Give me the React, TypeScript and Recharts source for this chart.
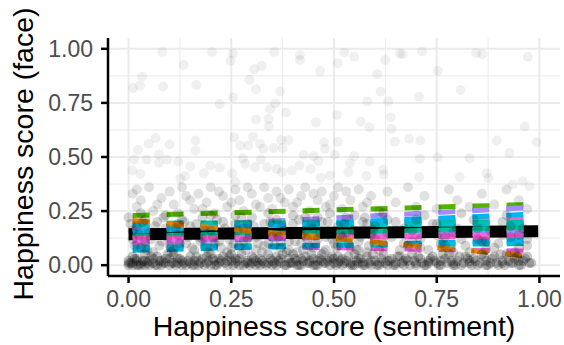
import { ComposedChart, Scatter, Line, XAxis, YAxis, ReferenceLine } from 'recharts';

// sparse upper points
const upperPoints: [number, number][] = [
  [0.082, 0.986], [0.203, 0.986], [0.254, 0.98], [0.248, 0.945], [0.355, 0.986], [0.417, 0.971],
  [0.417, 0.948], [0.525, 0.983], [0.509, 0.934], [0.549, 0.963], [0.625, 0.949], [0.66, 0.978],
  [0.667, 0.975], [0.714, 0.988], [0.846, 0.98], [0.861, 0.975], [0.972, 0.963], [0.134, 0.925],
  [0.306, 0.905], [0.324, 0.922], [0.466, 0.897], [0.753, 0.897], [0.605, 0.883], [0.033, 0.871],
  [0.011, 0.819], [0.028, 0.829], [0.084, 0.826], [0.165, 0.833], [0.294, 0.857], [0.31, 0.813],
  [0.369, 0.803], [0.613, 0.802], [0.707, 0.779], [0.808, 0.81], [0.254, 0.776], [0.222, 0.745],
  [0.357, 0.748], [0.345, 0.722], [0.383, 0.706], [0.581, 0.757], [0.632, 0.757], [0.507, 0.694],
  [0.31, 0.673], [0.341, 0.676], [0.341, 0.642], [0.456, 0.66], [0.565, 0.664], [0.586, 0.637],
  [0.638, 0.683], [0.64, 0.63], [0.964, 0.641], [0.066, 0.588], [0.049, 0.561], [0.1, 0.558],
  [0.023, 0.533], [0.163, 0.576], [0.163, 0.53], [0.257, 0.591], [0.303, 0.594], [0.272, 0.553],
  [0.292, 0.553], [0.32, 0.561], [0.328, 0.538], [0.353, 0.542], [0.375, 0.542], [0.371, 0.579],
  [0.389, 0.579], [0.476, 0.568], [0.509, 0.571], [0.478, 0.538], [0.648, 0.571], [0.683, 0.584],
  [0.71, 0.576], [0.896, 0.576], [0.993, 0.568], [0.927, 0.518], [0.013, 0.488], [0.044, 0.487],
  [0.074, 0.512], [0.074, 0.473], [0.094, 0.488], [0.121, 0.479], [0.15, 0.456], [0.199, 0.461],
  [0.222, 0.45], [0.278, 0.494], [0.284, 0.469], [0.322, 0.488], [0.426, 0.51], [0.45, 0.504],
  [0.462, 0.481], [0.502, 0.51], [0.549, 0.504], [0.539, 0.471], [0.587, 0.479], [0.709, 0.492],
  [0.752, 0.499], [0.83, 0.494], [0.009, 0.438], [0.029, 0.422], [0.126, 0.4], [0.138, 0.412],
  [0.183, 0.425], [0.252, 0.425], [0.26, 0.384], [0.308, 0.453], [0.337, 0.453], [0.361, 0.445],
  [0.373, 0.43], [0.397, 0.438], [0.416, 0.461], [0.443, 0.445], [0.468, 0.404], [0.49, 0.415],
  [0.535, 0.43], [0.579, 0.412], [0.62, 0.441], [0.621, 0.419], [0.707, 0.407], [0.806, 0.407],
  [0.871, 0.425], [0.876, 0.402], [0.959, 0.388], [0.935, 0.373], [0.976, 0.365],
];

// upper part of the middle band (y 0.24 - 0.37)
const midHighPoints: [number, number][] = [
  [0.01, 0.33], [0.03, 0.3], [0.05, 0.36], [0.02, 0.27], [0.06, 0.25], [0.08, 0.31], [0.1, 0.34],
  [0.11, 0.28], [0.13, 0.36], [0.12, 0.24], [0.15, 0.3], [0.17, 0.33], [0.16, 0.26], [0.19, 0.29],
  [0.2, 0.36], [0.21, 0.24], [0.23, 0.32], [0.24, 0.27], [0.26, 0.35], [0.27, 0.3], [0.28, 0.25],
  [0.3, 0.33], [0.31, 0.28], [0.33, 0.36], [0.34, 0.31], [0.35, 0.26], [0.36, 0.34], [0.38, 0.29],
  [0.39, 0.35], [0.4, 0.27], [0.42, 0.32], [0.43, 0.36], [0.44, 0.25], [0.46, 0.3], [0.47, 0.34],
  [0.48, 0.27], [0.5, 0.32], [0.51, 0.36], [0.52, 0.26], [0.54, 0.3], [0.56, 0.35], [0.57, 0.27],
  [0.59, 0.32], [0.61, 0.25], [0.63, 0.34], [0.65, 0.29], [0.68, 0.36], [0.7, 0.27], [0.72, 0.32],
  [0.75, 0.26], [0.78, 0.35], [0.8, 0.3], [0.83, 0.27], [0.86, 0.33], [0.89, 0.28], [0.92, 0.35],
  [0.95, 0.3], [0.97, 0.26],
  [0.02, 0.35], [0.07, 0.28], [0.14, 0.32], [0.18, 0.26], [0.22, 0.34], [0.25, 0.29], [0.29, 0.36],
  [0.32, 0.27], [0.37, 0.31], [0.41, 0.29], [0.45, 0.33], [0.49, 0.28], [0.53, 0.34], [0.58, 0.29],
];

// lower part of the middle band (y 0.05 - 0.24)
const midLowPoints: [number, number][] = [
  [0.0, 0.22], [0.02, 0.18], [0.04, 0.21], [0.01, 0.12], [0.03, 0.08], [0.05, 0.15], [0.07, 0.2],
  [0.08, 0.11], [0.09, 0.17], [0.11, 0.07], [0.12, 0.14], [0.13, 0.21], [0.14, 0.1], [0.15, 0.18],
  [0.17, 0.13], [0.18, 0.22], [0.19, 0.08], [0.2, 0.16], [0.22, 0.11], [0.23, 0.2], [0.24, 0.06],
  [0.25, 0.14], [0.26, 0.19], [0.27, 0.09], [0.28, 0.17], [0.29, 0.12], [0.3, 0.22], [0.31, 0.07],
  [0.32, 0.15], [0.33, 0.19], [0.34, 0.1], [0.35, 0.13], [0.36, 0.21], [0.37, 0.08], [0.38, 0.16],
  [0.39, 0.11], [0.4, 0.19], [0.41, 0.06], [0.42, 0.14], [0.43, 0.22], [0.44, 0.09], [0.45, 0.17],
  [0.46, 0.12], [0.47, 0.2], [0.48, 0.07], [0.49, 0.15], [0.5, 0.1], [0.51, 0.18], [0.52, 0.13],
  [0.53, 0.22], [0.54, 0.08], [0.55, 0.16], [0.56, 0.11], [0.57, 0.2], [0.58, 0.06], [0.59, 0.14],
  [0.6, 0.18], [0.62, 0.1], [0.63, 0.21], [0.64, 0.13], [0.66, 0.07], [0.67, 0.17], [0.69, 0.11],
  [0.7, 0.21], [0.71, 0.08], [0.73, 0.15], [0.74, 0.19], [0.76, 0.1], [0.77, 0.13], [0.79, 0.06],
  [0.8, 0.17], [0.82, 0.09], [0.84, 0.21], [0.85, 0.12], [0.87, 0.07], [0.88, 0.16], [0.9, 0.1],
  [0.91, 0.2], [0.93, 0.13], [0.94, 0.06], [0.96, 0.17], [0.97, 0.09],
  [0.01, 0.16], [0.03, 0.24], [0.04, 0.11], [0.06, 0.06], [0.07, 0.14], [0.09, 0.23], [0.1, 0.09],
  [0.12, 0.19], [0.14, 0.15], [0.16, 0.07], [0.18, 0.12], [0.2, 0.23], [0.21, 0.1], [0.23, 0.14],
  [0.25, 0.08], [0.26, 0.23], [0.28, 0.11], [0.29, 0.19], [0.31, 0.13], [0.33, 0.09], [0.34, 0.24],
  [0.36, 0.15], [0.37, 0.11], [0.39, 0.07], [0.4, 0.23], [0.42, 0.1], [0.43, 0.16], [0.45, 0.08],
  [0.46, 0.22], [0.48, 0.13], [0.49, 0.24], [0.51, 0.09], [0.53, 0.15], [0.55, 0.23], [0.56, 0.07],
  [0.58, 0.19], [0.6, 0.12], [0.62, 0.24], [0.65, 0.15], [0.68, 0.09], [0.72, 0.23], [0.75, 0.14],
  [0.81, 0.24], [0.86, 0.11], [0.92, 0.23], [0.95, 0.14],
  [0.005, 0.19], [0.015, 0.09], [0.025, 0.14], [0.035, 0.2], [0.045, 0.07], [0.055, 0.12], [0.065, 0.18],
  [0.075, 0.09], [0.085, 0.22], [0.095, 0.13], [0.105, 0.06], [0.115, 0.17], [0.125, 0.1], [0.135, 0.2],
  [0.145, 0.13], [0.155, 0.08], [0.165, 0.19], [0.175, 0.11], [0.185, 0.16], [0.195, 0.06], [0.205, 0.13],
  [0.215, 0.21], [0.225, 0.08], [0.235, 0.17], [0.245, 0.12], [0.255, 0.1], [0.265, 0.16], [0.275, 0.22],
  [0.285, 0.07], [0.295, 0.14], [0.305, 0.18], [0.315, 0.1], [0.325, 0.06], [0.335, 0.15], [0.345, 0.2],
  [0.355, 0.09], [0.365, 0.13], [0.375, 0.18], [0.385, 0.06], [0.395, 0.14], [0.405, 0.11], [0.415, 0.21],
  [0.425, 0.07], [0.435, 0.12], [0.445, 0.19], [0.455, 0.1], [0.465, 0.15], [0.475, 0.06], [0.485, 0.2],
  [0.495, 0.12], [0.505, 0.08], [0.515, 0.14], [0.525, 0.19], [0.535, 0.1], [0.545, 0.16], [0.555, 0.07],
  [0.565, 0.13], [0.575, 0.22], [0.585, 0.09], [0.595, 0.16], [0.61, 0.07], [0.63, 0.15], [0.65, 0.2],
  [0.67, 0.1], [0.69, 0.16], [0.71, 0.12], [0.73, 0.07], [0.75, 0.19], [0.77, 0.09], [0.79, 0.15],
  [0.81, 0.12], [0.83, 0.06], [0.85, 0.17], [0.87, 0.11], [0.89, 0.08], [0.91, 0.14], [0.93, 0.18],
  [0.95, 0.08], [0.97, 0.12],
];

// dense band near zero
const floorPoints: [number, number][] = [
  [0.0, 0.0], [0.0, 0.02], [0.01, 0.01], [0.01, 0.04], [0.02, 0.0], [0.02, 0.03], [0.03, 0.01],
  [0.04, 0.05], [0.04, 0.0], [0.05, 0.02], [0.06, 0.01], [0.07, 0.04], [0.07, 0.0], [0.08, 0.02],
  [0.09, 0.01], [0.1, 0.03], [0.1, 0.0], [0.11, 0.05], [0.12, 0.01], [0.13, 0.02], [0.14, 0.0],
  [0.15, 0.04], [0.15, 0.01], [0.16, 0.02], [0.17, 0.0], [0.18, 0.03], [0.19, 0.01], [0.2, 0.05],
  [0.2, 0.0], [0.21, 0.02], [0.22, 0.01], [0.23, 0.04], [0.24, 0.0], [0.25, 0.02], [0.25, 0.05],
  [0.26, 0.01], [0.27, 0.03], [0.28, 0.0], [0.29, 0.02], [0.3, 0.04], [0.3, 0.01], [0.31, 0.0],
  [0.32, 0.03], [0.33, 0.01], [0.34, 0.05], [0.35, 0.0], [0.35, 0.02], [0.36, 0.04], [0.37, 0.01],
  [0.38, 0.0], [0.39, 0.03], [0.4, 0.01], [0.4, 0.05], [0.41, 0.02], [0.42, 0.0], [0.43, 0.04],
  [0.44, 0.01], [0.45, 0.03], [0.45, 0.0], [0.46, 0.02], [0.47, 0.05], [0.48, 0.01], [0.49, 0.0],
  [0.5, 0.03], [0.5, 0.01], [0.51, 0.04], [0.52, 0.0], [0.53, 0.02], [0.54, 0.01], [0.55, 0.05],
  [0.55, 0.0], [0.56, 0.03], [0.57, 0.01], [0.58, 0.04], [0.59, 0.0], [0.6, 0.02], [0.61, 0.01],
  [0.62, 0.05], [0.63, 0.0], [0.64, 0.03], [0.65, 0.01], [0.66, 0.04], [0.67, 0.0], [0.68, 0.02],
  [0.69, 0.05], [0.7, 0.01], [0.71, 0.03], [0.72, 0.0], [0.73, 0.02], [0.74, 0.04], [0.75, 0.01],
  [0.76, 0.0], [0.77, 0.03], [0.78, 0.05], [0.79, 0.01], [0.8, 0.02], [0.81, 0.0], [0.82, 0.04],
  [0.83, 0.01], [0.84, 0.03], [0.85, 0.0], [0.86, 0.05], [0.87, 0.02], [0.88, 0.01], [0.89, 0.04],
  [0.9, 0.0], [0.91, 0.02], [0.92, 0.05], [0.93, 0.01], [0.94, 0.03], [0.95, 0.0], [0.96, 0.02],
  [0.97, 0.04], [0.98, 0.01],
  [0.0, 0.01], [0.01, 0.0], [0.02, 0.02], [0.03, 0.0], [0.04, 0.02], [0.05, 0.0], [0.06, 0.03],
  [0.08, 0.0], [0.09, 0.03], [0.11, 0.01], [0.12, 0.03], [0.13, 0.0], [0.16, 0.0], [0.17, 0.02],
  [0.19, 0.04], [0.21, 0.0], [0.22, 0.03], [0.24, 0.02], [0.26, 0.03], [0.27, 0.0], [0.29, 0.01],
  [0.31, 0.02], [0.32, 0.0], [0.34, 0.01], [0.36, 0.0], [0.37, 0.03], [0.39, 0.01], [0.41, 0.0],
  [0.42, 0.03], [0.44, 0.02], [0.46, 0.0], [0.47, 0.02], [0.49, 0.03], [0.51, 0.01], [0.52, 0.03],
  [0.54, 0.0], [0.56, 0.01], [0.57, 0.0], [0.59, 0.02], [0.61, 0.0], [0.63, 0.02], [0.65, 0.0],
  [0.67, 0.02], [0.7, 0.0], [0.73, 0.01], [0.76, 0.02], [0.79, 0.0], [0.83, 0.02], [0.87, 0.0],
  [0.91, 0.01], [0.95, 0.02],
  [0.005, 0.01], [0.015, 0.03], [0.025, 0.0], [0.035, 0.02], [0.045, 0.01], [0.055, 0.04], [0.065, 0.0],
  [0.075, 0.02], [0.085, 0.01], [0.095, 0.05], [0.105, 0.01], [0.115, 0.0], [0.125, 0.03], [0.135, 0.01],
  [0.145, 0.02], [0.155, 0.0], [0.165, 0.04], [0.175, 0.01], [0.185, 0.0], [0.195, 0.02], [0.205, 0.03],
  [0.215, 0.0], [0.225, 0.02], [0.235, 0.01], [0.245, 0.04], [0.255, 0.0], [0.265, 0.02], [0.275, 0.05],
  [0.285, 0.01], [0.295, 0.0], [0.305, 0.03], [0.315, 0.01], [0.325, 0.02], [0.335, 0.0], [0.345, 0.03],
  [0.355, 0.01], [0.365, 0.02], [0.375, 0.05], [0.385, 0.0], [0.395, 0.01], [0.405, 0.03], [0.415, 0.0],
  [0.425, 0.02], [0.435, 0.01], [0.445, 0.05], [0.455, 0.0], [0.465, 0.03], [0.475, 0.01], [0.485, 0.02],
  [0.495, 0.04], [0.505, 0.0], [0.515, 0.02], [0.525, 0.01], [0.535, 0.04], [0.545, 0.0], [0.555, 0.02],
  [0.565, 0.03], [0.575, 0.0], [0.585, 0.01], [0.595, 0.05], [0.605, 0.0], [0.615, 0.03], [0.625, 0.01],
  [0.635, 0.02], [0.645, 0.0], [0.655, 0.04], [0.665, 0.01], [0.675, 0.03], [0.685, 0.0], [0.695, 0.02],
  [0.705, 0.04], [0.715, 0.01], [0.725, 0.0], [0.735, 0.03], [0.745, 0.02], [0.755, 0.0], [0.765, 0.05],
  [0.775, 0.01], [0.785, 0.02], [0.795, 0.0], [0.805, 0.04], [0.815, 0.01], [0.825, 0.03], [0.835, 0.0],
  [0.845, 0.02], [0.855, 0.01], [0.865, 0.04], [0.875, 0.0], [0.885, 0.03], [0.895, 0.01], [0.905, 0.05],
  [0.915, 0.0], [0.925, 0.02], [0.935, 0.01], [0.945, 0.04], [0.955, 0.0], [0.965, 0.03], [0.975, 0.01],
];

// how many overlapping observations each listed point stands for, per band
const upperCount = 1;
const midHighCount = 2;
const midLowCount = 3;
const floorCount = 4;

// per-group fitted lines: value at left end and right end
const groupColors = [
  '#53B400', '#A58AFF', '#FB61D7', '#00C094', '#00BFC4', '#00B6EB', '#C49A00',
  '#00C094', '#A58AFF', '#FB61D7', '#F564E3', '#00BFC4', '#00B6EB', '#E58700',
];
const groupStart = [0.23, 0.17, 0.165, 0.194, 0.184, 0.157, 0.13, 0.135, 0.106, 0.124, 0.097, 0.083, 0.069, 0.207];
const groupEnd = [0.28, 0.265, 0.22, 0.198, 0.19, 0.235, 0.165, 0.17, 0.152, 0.134, 0.065, 0.1, 0.115, 0.043];
const groupFrom = 0.01;
const groupTo = 0.97;

const overallFrom = 0.0;
const overallTo = 0.997;
const overallStart = 0.143;
const overallEnd = 0.157;

const majorTicks = [0, 0.25, 0.5, 0.75, 1];
const minorTicks = [0.125, 0.375, 0.625, 0.875];

const ALPHA = 0.06;

const toXY = (pts: [number, number][], n: number) => pts.map(([x, y]) => ({ x, y, n }));
const allPoints = [
  ...toXY(floorPoints, floorCount),
  ...toXY(midLowPoints, midLowCount),
  ...toXY(midHighPoints, midHighCount),
  ...toXY(upperPoints, upperCount),
];

const Dot = (props: any) => {
  const n = props.payload?.n ?? 1;
  return (
    <circle cx={props.cx} cy={props.cy} r={5} fill="#000" fillOpacity={1 - Math.pow(1 - ALPHA, n)} />
  );
};

const fmt = (v: number) => v.toFixed(2);
const tickStyle = { fill: '#4D4D4D', fontSize: 23 };

export default function App() {
  return (
    <div style={{ position: 'absolute', left: 0, top: 0, background: '#fff' }}>
      <ComposedChart
        width={564}
        height={345}
        margin={{ top: 38, right: 4, bottom: 0, left: 0 }}
        style={{ fontFamily: '"Liberation Sans", Arial, sans-serif' }}
      >
        <XAxis
          dataKey="x"
          type="number"
          domain={[-0.05, 1.05]}
          ticks={majorTicks}
          tickFormatter={fmt}
          allowDataOverflow
          height={69}
          tick={tickStyle}
          tickSize={7}
          tickMargin={8}
          axisLine={{ stroke: '#000', strokeWidth: 2.5 }}
          tickLine={{ stroke: '#000', strokeWidth: 2.5 }}
          label={{ value: 'Happiness score (sentiment)', position: 'insideBottom', offset: 9, fill: '#000', fontSize: 28.5 }}
        />
        <YAxis
          dataKey="y"
          type="number"
          domain={[-0.05, 1.05]}
          ticks={majorTicks}
          tickFormatter={fmt}
          allowDataOverflow
          width={108}
          tick={tickStyle}
          tickSize={7}
          tickMargin={8}
          axisLine={{ stroke: '#000', strokeWidth: 2.5 }}
          tickLine={{ stroke: '#000', strokeWidth: 2.5 }}
          label={{
            content: () => (
              <text
                x={33}
                y={154}
                transform="rotate(-90 33 154)"
                textAnchor="middle"
                fontSize={28.5}
                fill="#000"
              >
                Happiness score (face)
              </text>
            ),
          }}
        />
        {minorTicks.map((t) => (
          <ReferenceLine key={'mx' + t} x={t} stroke="#EBEBEB" strokeWidth={1} />
        ))}
        {minorTicks.map((t) => (
          <ReferenceLine key={'my' + t} y={t} stroke="#EBEBEB" strokeWidth={1} />
        ))}
        {majorTicks.map((t) => (
          <ReferenceLine key={'Mx' + t} x={t} stroke="#EBEBEB" strokeWidth={2} />
        ))}
        {majorTicks.map((t) => (
          <ReferenceLine key={'My' + t} y={t} stroke="#EBEBEB" strokeWidth={2} />
        ))}
        <Scatter data={allPoints} dataKey="y" shape={Dot} isAnimationActive={false} />
        <Line
          data={[
            { x: overallFrom, y: overallStart },
            { x: overallTo, y: overallEnd },
          ]}
          dataKey="y"
          type="linear"
          stroke="#000"
          strokeWidth={12}
          dot={false}
          activeDot={false}
          isAnimationActive={false}
        />
        {groupColors.map((c, i) => (
          <Line
            key={i}
            data={[
              { x: groupFrom, y: groupStart[i] },
              { x: groupTo, y: groupEnd[i] },
            ]}
            dataKey="y"
            type="linear"
            stroke={c}
            strokeWidth={5}
            strokeDasharray="17 17"
            dot={false}
            activeDot={false}
            isAnimationActive={false}
          />
        ))}
      </ComposedChart>
    </div>
  );
}
